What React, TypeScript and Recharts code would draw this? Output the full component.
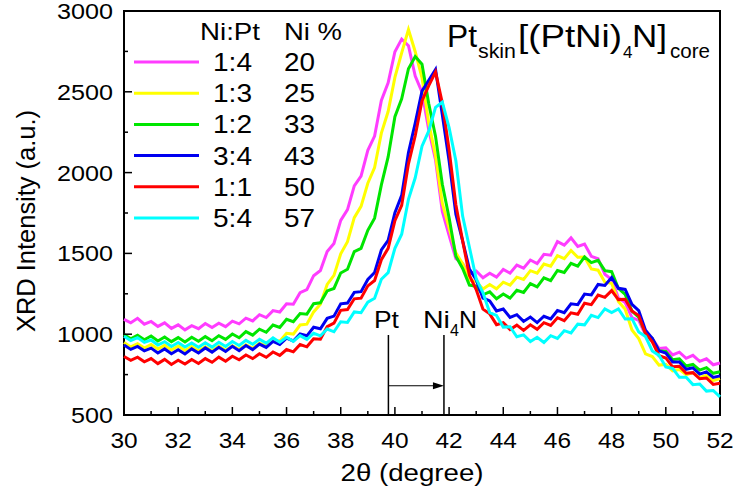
import {
  LineChart,
  Line,
  XAxis,
  YAxis,
  ReferenceLine,
  ReferenceArea,
  Customized,
} from "recharts";

// 2θ grid (degree)
const twoTheta = [
  30, 30.25, 30.5, 30.75, 31, 31.25, 31.5, 31.75, 32, 32.25, 32.5, 32.75, 33,
  33.25, 33.5, 33.75, 34, 34.25, 34.5, 34.75, 35, 35.25, 35.5, 35.75, 36, 36.25,
  36.5, 36.75, 37, 37.25, 37.5, 37.75, 38, 38.25, 38.5, 38.75, 39, 39.25, 39.5,
  39.75, 40, 40.25, 40.5, 40.75, 41, 41.25, 41.5, 41.75, 42, 42.25, 42.5, 42.75,
  43, 43.25, 43.5, 43.75, 44, 44.25, 44.5, 44.75, 45, 45.25, 45.5, 45.75, 46,
  46.25, 46.5, 46.75, 47, 47.25, 47.5, 47.75, 48, 48.25, 48.5, 48.75, 49, 49.25,
  49.5, 49.75, 50, 50.25, 50.5, 50.75, 51, 51.25, 51.5, 51.75, 52,
];

// XRD intensity (a.u.) per Ni:Pt ratio
const ni1to4 = [
  1092, 1071, 1098, 1062, 1079, 1048, 1070, 1036,
  1058, 1027, 1053, 1034, 1066, 1041, 1068, 1047,
  1081, 1064, 1099, 1082, 1121, 1103, 1146, 1137,
  1188, 1186, 1257, 1276, 1362, 1394, 1512, 1561,
  1704, 1771, 1918, 1978, 2138, 2226, 2447, 2556,
  2748, 2826, 2785, 2597, 2498, 2264, 2078, 1759,
  1612, 1468, 1437, 1372, 1391, 1349, 1377, 1353,
  1401, 1378, 1428, 1409, 1459, 1437, 1494, 1489,
  1573, 1551, 1596, 1543, 1558, 1482, 1467, 1371,
  1338, 1224, 1196, 1103, 1086, 996, 974, 911,
  915, 872, 889, 851, 869, 832, 848, 811,
  822,
];
const ni1to3 = [
  948, 921, 941, 914, 936, 908, 931, 902,
  927, 899, 924, 897, 922, 898, 926, 900,
  929, 906, 935, 913, 944, 928, 965, 956,
  1006, 1001, 1057, 1062, 1138, 1186, 1308, 1364,
  1497, 1572, 1721, 1791, 1934, 2031, 2244, 2378,
  2589, 2741, 2885, 2748, 2586, 2306, 2103, 1811,
  1658, 1503, 1437, 1334, 1326, 1279, 1307, 1281,
  1322, 1304, 1353, 1339, 1393, 1378, 1434, 1421,
  1486, 1467, 1518, 1476, 1478, 1404, 1396, 1322,
  1315, 1203, 1154, 1026, 973, 878, 862, 809,
  813, 773, 782, 748, 762, 731, 746, 713,
  726,
];
const ni1to2 = [
  998, 972, 994, 966, 989, 958, 983, 954,
  979, 952, 981, 956, 985, 960, 991, 968,
  1001, 978, 1016, 994, 1031, 1012, 1057, 1042,
  1092, 1077, 1128, 1124, 1189, 1194, 1268, 1283,
  1379, 1402, 1511, 1531, 1643, 1718, 1924, 2097,
  2346, 2457, 2643, 2718, 2671, 2426, 2224, 1928,
  1721, 1483, 1407, 1304, 1297, 1244, 1262, 1219,
  1249, 1223, 1272, 1258, 1313, 1293, 1349, 1332,
  1394, 1382, 1439, 1421, 1478, 1443, 1457, 1393,
  1387, 1283, 1246, 1143, 1105, 1006, 974, 897,
  893, 842, 848, 803, 813, 778, 793, 758,
  768,
];
const ni3to4 = [
  933, 906, 924, 897, 914, 884, 909, 879,
  904, 878, 909, 884, 915, 889, 919, 893,
  925, 898, 930, 905, 939, 918, 955, 936,
  976, 958, 1002, 990, 1043, 1034, 1098, 1112,
  1188, 1193, 1259, 1263, 1339, 1382, 1521, 1581,
  1752, 1859, 2124, 2307, 2504, 2571, 2638, 2358,
  2073, 1742, 1578, 1403, 1337, 1224, 1206, 1144,
  1156, 1104, 1121, 1079, 1106, 1072, 1111, 1094,
  1147, 1133, 1188, 1183, 1248, 1243, 1308, 1302,
  1351, 1284, 1277, 1184, 1146, 1025, 974, 897,
  883, 828, 828, 783, 792, 753, 767, 733,
  742,
];
const ni1to1 = [
  862, 838, 858, 829, 849, 818, 844, 813,
  839, 815, 844, 819, 849, 826, 858, 833,
  864, 842, 871, 849, 879, 857, 890, 869,
  905, 891, 936, 922, 972, 969, 1047, 1068,
  1148, 1153, 1219, 1223, 1299, 1332, 1461, 1531,
  1702, 1798, 2054, 2228, 2443, 2538, 2622, 2431,
  2142, 1801, 1577, 1364, 1276, 1155, 1126, 1059,
  1071, 1029, 1056, 1024, 1058, 1030, 1071, 1054,
  1102, 1084, 1132, 1123, 1192, 1183, 1242, 1228,
  1270, 1214, 1216, 1144, 1115, 1006, 953, 867,
  853, 798, 802, 758, 762, 724, 729, 689,
  696,
];
const ni5to4 = [
  988, 961, 979, 949, 964, 933, 954, 924,
  949, 921, 946, 919, 947, 920, 950, 924,
  955, 930, 962, 938, 969, 945, 977, 950,
  981, 956, 991, 968, 1006, 990, 1032, 1015,
  1077, 1073, 1138, 1133, 1198, 1222, 1340, 1381,
  1532, 1619, 1834, 1968, 2164, 2258, 2404, 2437,
  2278, 2073, 1731, 1538, 1344, 1256, 1134, 1116,
  1044, 1046, 984, 996, 954, 981, 949, 991,
  974, 1022, 1008, 1062, 1058, 1117, 1103, 1157,
  1134, 1156, 1094, 1096, 1014, 985, 896, 869,
  797, 788, 733, 733, 688, 692, 648, 652,
  612,
];

const ratios = ["1:4", "1:3", "1:2", "3:4", "1:1", "5:4"];
const niPercent = [20, 25, 33, 43, 50, 57];
const seriesKeys = ["r14", "r13", "r12", "r34", "r11", "r54"];
const seriesValues = [ni1to4, ni1to3, ni1to2, ni3to4, ni1to1, ni5to4];
const colors = ["#ff3cff", "#ffff00", "#00e600", "#0000f0", "#ff0000", "#00ffff"];

const xTicks = [
  30, 31, 32, 33, 34, 35, 36, 37, 38, 39, 40, 41, 42, 43, 44, 45, 46, 47, 48, 49,
  50, 51, 52,
];
const yTicks = [500, 750, 1000, 1250, 1500, 1750, 2000, 2250, 2500, 2750, 3000];

// reference peak positions (degree)
const ptPeak = 39.76;
const ni4nPeak = 41.81;

const FONT = "'Liberation Sans', Arial, Helvetica, sans-serif";

const data = twoTheta.map((x, i) => {
  const row: Record<string, number> = { x };
  seriesKeys.forEach((k, s) => {
    row[k] = seriesValues[s][i];
  });
  return row;
});

const XTick = (props: any) => {
  const { x, y, payload } = props;
  const major = payload.value % 2 === 0;
  const label = String(payload.value);
  return (
    <g>
      <line x1={x} y1={y} x2={x} y2={y - (major ? 8 : 4)} stroke="#000" strokeWidth={1.5} />
      {major && (
        <text
          x={x}
          y={y + 33}
          textAnchor="middle"
          fontSize={22}
          fontFamily={FONT}
          fill="#000"
          textLength={label.length * 13.6}
          lengthAdjust="spacingAndGlyphs"
        >
          {label}
        </text>
      )}
    </g>
  );
};

const YTick = (props: any) => {
  const { x, y, payload } = props;
  const major = payload.value % 500 === 0;
  const label = String(payload.value);
  return (
    <g>
      <line x1={x} y1={y} x2={x + (major ? 8 : 4)} y2={y} stroke="#000" strokeWidth={1.5} />
      {major && (
        <text
          x={x - 11}
          y={y + 8}
          textAnchor="end"
          fontSize={22}
          fontFamily={FONT}
          fill="#000"
          textLength={label.length * 14}
          lengthAdjust="spacingAndGlyphs"
        >
          {label}
        </text>
      )}
    </g>
  );
};

const PeakMarker = (name: string, sub?: string, tail?: string) => (props: any) => {
  const { x1, y1, y2 } = props;
  const top = Math.min(y1, y2);
  return (
    <g>
      <line x1={x1} y1={y1} x2={x1} y2={y2} stroke="#000" strokeWidth={1.5} />
      {sub ? (
        <text y={top - 7} fontSize={24} fontFamily={FONT} fill="#000">
          <tspan x={x1 - 21} textLength={27} lengthAdjust="spacingAndGlyphs">{name}</tspan>
          <tspan x={x1 + 6} dy={8} fontSize={16}>{sub}</tspan>
          <tspan x={x1 + 15} dy={-8} textLength={18} lengthAdjust="spacingAndGlyphs">{tail}</tspan>
        </text>
      ) : (
        <text
          x={x1 - 2}
          y={top - 7}
          textAnchor="middle"
          fontSize={24}
          fontFamily={FONT}
          fill="#000"
          textLength={25}
          lengthAdjust="spacingAndGlyphs"
        >
          {name}
        </text>
      )}
    </g>
  );
};

const ShiftArrow = (props: any) => {
  const { x1, y1, x2 } = props;
  return (
    <g>
      <line x1={x1} y1={y1} x2={x2 - 9} y2={y1} stroke="#000" strokeWidth={1.2} />
      <polygon points={`${x2},${y1} ${x2 - 11},${y1 - 3.5} ${x2 - 11},${y1 + 3.5}`} fill="#000" />
    </g>
  );
};

const Decor = () => (
  <g fontFamily={FONT} fill="#000">
    {/* legend table */}
    <text x={260} y={40} fontSize={24} textAnchor="end" textLength={60} lengthAdjust="spacingAndGlyphs">
      Ni:Pt
    </text>
    <text x={284} y={40} fontSize={24} textLength={58} lengthAdjust="spacingAndGlyphs">
      Ni %
    </text>
    {ratios.map((r, i) => {
      const cy = 62 + i * 31.2;
      return (
        <g key={r}>
          <line x1={134} x2={199} y1={cy} y2={cy} stroke={colors[i]} strokeWidth={3} />
          <text x={252} y={cy + 9} fontSize={25} textAnchor="end" textLength={39} lengthAdjust="spacingAndGlyphs">
            {r}
          </text>
          <text x={284} y={cy + 9} fontSize={25} textLength={31} lengthAdjust="spacingAndGlyphs">
            {niPercent[i]}
          </text>
        </g>
      );
    })}

    {/* title */}
    <text y={47} fontSize={32}>
      <tspan x={447} textLength={30} lengthAdjust="spacingAndGlyphs">Pt</tspan>
      <tspan x={478} dy={11} fontSize={21} textLength={38} lengthAdjust="spacingAndGlyphs">skin</tspan>
      <tspan x={518} dy={-11} textLength={104} lengthAdjust="spacingAndGlyphs">[(PtNi)</tspan>
      <tspan x={623} dy={11} fontSize={17}>4</tspan>
      <tspan x={632} dy={-11} textLength={35} lengthAdjust="spacingAndGlyphs">N]</tspan>
      <tspan x={670} dy={11} fontSize={21} textLength={40} lengthAdjust="spacingAndGlyphs">core</tspan>
    </text>

    {/* axis titles */}
    <text x={412} y={481} fontSize={23} textAnchor="middle" textLength={143} lengthAdjust="spacingAndGlyphs">
      2θ (degree)
    </text>
    <text
      transform="translate(35,221) rotate(-90)"
      fontSize={25}
      textAnchor="middle"
      textLength={222}
      lengthAdjust="spacingAndGlyphs"
    >
      XRD Intensity (a.u.)
    </text>
  </g>
);

export default function App() {
  return (
    <div style={{ position: "absolute", left: 0, top: 0, background: "#fff" }}>
      <LineChart
        width={735}
        height={489}
        data={data}
        margin={{ top: 11, right: 15, left: 24, bottom: 14 }}
      >
        <XAxis
          dataKey="x"
          type="number"
          domain={[30, 52]}
          ticks={xTicks}
          interval={0}
          height={60}
          axisLine={false}
          tickLine={false}
          tickSize={0}
          tickMargin={0}
          tick={<XTick />}
        />
        <YAxis
          type="number"
          domain={[500, 3000]}
          ticks={yTicks}
          interval={0}
          width={100}
          axisLine={false}
          tickLine={false}
          tickSize={0}
          tickMargin={0}
          tick={<YTick />}
        />
        {seriesKeys.map((k, i) => (
          <Line
            key={k}
            dataKey={k}
            type="linear"
            stroke={colors[i]}
            strokeWidth={3}
            dot={false}
            isAnimationActive={false}
          />
        ))}
        <ReferenceLine
          segment={[
            { x: ptPeak, y: 500 },
            { x: ptPeak, y: 995 },
          ]}
          shape={PeakMarker("Pt")}
        />
        <ReferenceLine
          segment={[
            { x: ni4nPeak, y: 500 },
            { x: ni4nPeak, y: 995 },
          ]}
          shape={PeakMarker("Ni", "4", "N")}
        />
        <ReferenceLine
          segment={[
            { x: ptPeak, y: 681 },
            { x: ni4nPeak, y: 681 },
          ]}
          shape={ShiftArrow}
        />
        <ReferenceArea
          x1={30}
          x2={52}
          y1={500}
          y2={3000}
          fill="none"
          stroke="#000"
          strokeWidth={2}
          ifOverflow="visible"
        />
        <Customized component={Decor} />
      </LineChart>
    </div>
  );
}
